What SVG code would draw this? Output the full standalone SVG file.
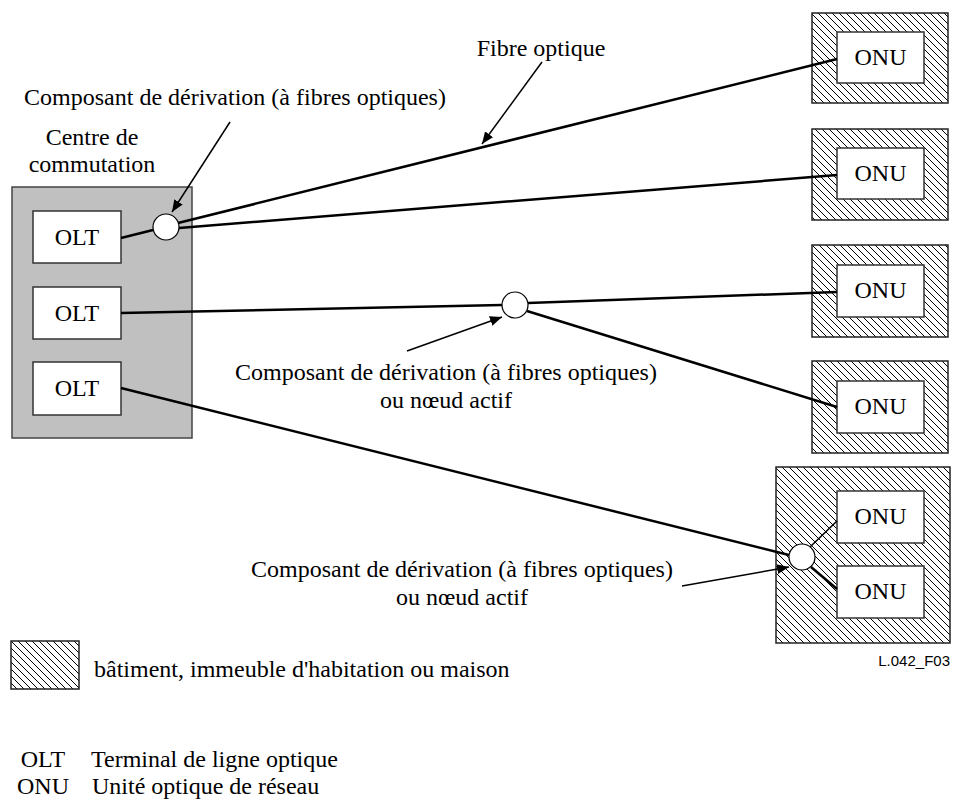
<svg xmlns="http://www.w3.org/2000/svg" width="953" height="800" viewBox="0 0 953 800">
  <style>
    text { font-family: "Liberation Serif", "Times New Roman", serif; font-size: 24px; fill: #000; }
    .mid { text-anchor: middle; }
    .code { font-family: "Liberation Sans", Arial, sans-serif; font-size: 15px; text-anchor: end; }
    .bldg { fill: url(#hatch); stroke: #222; stroke-width: 1.5; }
    .box { fill: #fff; stroke: #333; stroke-width: 1.5; }
    .office { fill: #c0c0c0; stroke: #444; stroke-width: 1.5; }
    .split { fill: #fff; stroke: #000; stroke-width: 1.2; }
    .fibre { stroke: #000; stroke-width: 2.5; fill: none; }
    .thin { stroke: #000; stroke-width: 1.6; fill: none; }
    .leader { stroke: #000; stroke-width: 1.5; fill: none; marker-end: url(#arrow); }
  </style>
  <defs>
    <pattern id="hatch" patternUnits="userSpaceOnUse" width="7" height="7">
      <rect width="7" height="7" fill="#fff"/>
      <path d="M-1,-1 L8,8 M-1,6 L1,8 M6,-1 L8,1" stroke="#000" stroke-width="1"/>
    </pattern>
    <marker id="arrow" viewBox="0 0 12 10" refX="12" refY="5" markerWidth="12" markerHeight="10" markerUnits="userSpaceOnUse" orient="auto">
      <path d="M0,0 L12,5 L0,10 Z" fill="#000"/>
    </marker>
  </defs>

  <!-- switching centre with its OLTs -->
  <g id="centre">
    <rect class="office" x="12" y="187" width="180" height="251"/>
    <text class="mid" x="92" y="145">Centre de</text>
    <text class="mid" x="92" y="172">commutation</text>
  </g>
  <g id="olt1">
    <rect class="box" x="33" y="211" width="88" height="52"/>
    <text class="mid" x="77" y="245">OLT</text>
  </g>
  <g id="olt2">
    <rect class="box" x="33" y="287" width="88" height="52"/>
    <text class="mid" x="77" y="321">OLT</text>
  </g>
  <g id="olt3">
    <rect class="box" x="33" y="362" width="88" height="53"/>
    <text class="mid" x="77" y="396">OLT</text>
  </g>

  <!-- buildings with ONUs -->
  <g id="onu1">
    <rect class="bldg" x="812" y="13" width="136" height="90"/>
    <rect class="box" x="837" y="32" width="87" height="51"/>
    <text class="mid" x="880.5" y="65">ONU</text>
  </g>
  <g id="onu2">
    <rect class="bldg" x="812" y="129" width="136" height="91"/>
    <rect class="box" x="837" y="148" width="87" height="51"/>
    <text class="mid" x="880.5" y="181">ONU</text>
  </g>
  <g id="onu3">
    <rect class="bldg" x="812" y="245" width="136" height="92"/>
    <rect class="box" x="837" y="265" width="87" height="52"/>
    <text class="mid" x="880.5" y="298">ONU</text>
  </g>
  <g id="onu4">
    <rect class="bldg" x="812" y="361" width="136" height="92"/>
    <rect class="box" x="837" y="381" width="87" height="52"/>
    <text class="mid" x="880.5" y="414">ONU</text>
  </g>
  <g id="building5">
    <rect class="bldg" x="776" y="467" width="174" height="176"/>
  </g>
  <g id="onu5a">
    <rect class="box" x="837" y="491" width="87" height="52"/>
    <text class="mid" x="880.5" y="524">ONU</text>
  </g>
  <g id="onu5b">
    <rect class="box" x="837" y="566" width="87" height="52"/>
    <text class="mid" x="880.5" y="599">ONU</text>
  </g>

  <!-- fibre connectors -->
  <g id="connectors">
    <line class="fibre" x1="121" y1="238" x2="153" y2="230"/>
    <line class="fibre" x1="178" y1="223" x2="837" y2="59"/>
    <line class="fibre" x1="179" y1="228" x2="837" y2="175"/>
    <line class="fibre" x1="121" y1="313" x2="502" y2="305"/>
    <line class="fibre" x1="528" y1="303" x2="837" y2="292"/>
    <line class="fibre" x1="527" y1="311" x2="837" y2="407"/>
    <line class="fibre" x1="121" y1="388" x2="789" y2="555"/>
    <line class="thin" x1="810" y1="547" x2="837" y2="521"/>
    <line class="fibre" x1="811" y1="567" x2="837" y2="589" stroke-width="3"/>
    <!-- label leaders -->
    <line class="leader" x1="230" y1="122" x2="172" y2="212"/>
    <line class="leader" x1="542" y1="62" x2="482" y2="144"/>
    <line class="leader" x1="407" y1="351" x2="502" y2="317"/>
    <line class="leader" x1="682" y1="586" x2="789" y2="567"/>
  </g>

  <!-- splitters / active nodes -->
  <g id="splitter1"><circle class="split" cx="166" cy="227" r="13"/></g>
  <g id="splitter2"><circle class="split" cx="515" cy="305" r="13"/></g>
  <g id="splitter3"><circle class="split" cx="802" cy="557" r="13"/></g>

  <!-- labels -->
  <g id="labels">
    <text class="mid" x="541" y="56">Fibre optique</text>
    <text class="mid" x="235" y="105">Composant de dérivation (à fibres optiques)</text>
    <text class="mid" x="446" y="380">Composant de dérivation (à fibres optiques)</text>
    <text class="mid" x="446" y="408">ou nœud actif</text>
    <text class="mid" x="462" y="577">Composant de dérivation (à fibres optiques)</text>
    <text class="mid" x="462" y="605">ou nœud actif</text>
    <text class="code" x="950" y="666">L.042_F03</text>
  </g>

  <!-- legend -->
  <g id="legend">
    <rect class="bldg" x="11" y="641" width="68" height="48"/>
    <text x="94" y="677">bâtiment, immeuble d'habitation ou maison</text>
    <text class="mid" x="43" y="767">OLT</text>
    <text x="91" y="767">Terminal de ligne optique</text>
    <text class="mid" x="43" y="794">ONU</text>
    <text x="92" y="794">Unité optique de réseau</text>
  </g>
</svg>
